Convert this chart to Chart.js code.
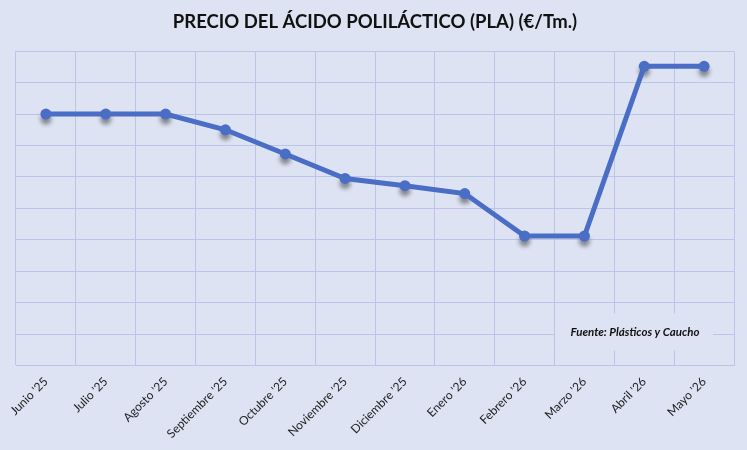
<!DOCTYPE html>
<html>
<head>
<meta charset="utf-8">
<script src="https://cdn.jsdelivr.net/npm/chart.js@4"></script>
<style>
  html, body { margin: 0; padding: 0; background: #dde3f3; }
  #wrap { width: 747px; height: 450px; }
</style>
</head>
<body>
<div id="wrap"><canvas id="plaChart"></canvas></div>
<script>
// datos (el eje Y no tiene etiquetas: unidades = líneas de la cuadrícula)
const meses = ["Junio '25","Julio '25","Agosto '25","Septiembre '25","Octubre '25","Noviembre '25",
  "Diciembre '25","Enero '26","Febrero '26","Marzo '26","Abril '26","Mayo '26"];
const precio = [8.0, 8.0, 8.0, 7.5, 6.73, 5.95, 5.72, 5.47, 4.12, 4.12, 9.52, 9.52];
const yMin = 0, yMax = 10, yStep = 1;

const BG = "#dde3f3";
const GRID = "#b9c6e6";
const AZUL = "#4a6dc6";

// sombra bajo los puntos (como en Excel)
const pointShadow = {
  id: "pointShadow",
  beforeDatasetsDraw(chart) {
    const ctx = chart.ctx;
    const meta = chart.getDatasetMeta(0);
    ctx.save();
    ctx.filter = "blur(2px)";
    ctx.fillStyle = "rgba(60,60,60,0.55)";
    meta.data.forEach(p => {
      ctx.beginPath();
      ctx.arc(p.x, p.y + 5, 5.5, 0, Math.PI * 2);
      ctx.fill();
    });
    ctx.restore();
  }
};

// nota de la fuente
const fuente = {
  id: "fuente",
  afterDraw(chart) {
    const ctx = chart.ctx;
    const a = chart.chartArea;
    ctx.save();
    ctx.fillStyle = BG;
    ctx.fillRect(a.right - 179, a.bottom - 52, 158, 37);
    ctx.fillStyle = "#111";
    ctx.font = "italic bold 11.5px Lato, 'Open Sans', sans-serif";
    ctx.textAlign = "center";
    ctx.textBaseline = "middle";
    ctx.fillText("Fuente: Plásticos y Caucho", a.right - 99, a.bottom - 33);
    ctx.restore();
  }
};

new Chart(document.getElementById("plaChart").getContext("2d"), {
  type: "line",
  data: {
    labels: meses,
    datasets: [{
      data: precio,
      borderColor: AZUL,
      backgroundColor: AZUL,
      borderWidth: 5,
      pointRadius: 5.5,
      pointBorderWidth: 0,
      pointBackgroundColor: AZUL,
      tension: 0
    }]
  },
  options: {
    responsive: true,
    maintainAspectRatio: false,
    animation: false,
    layout: { padding: { left: 16, right: 13, top: 0, bottom: 0 } },
    plugins: {
      legend: { display: false },
      tooltip: { enabled: false },
      title: {
        display: true,
        text: "PRECIO DEL ÁCIDO POLILÁCTICO (PLA) (€/Tm.)",
        color: "#111",
        font: { family: "Lato, 'Open Sans', sans-serif", size: 18.5, weight: "bold" },
        padding: { top: 11, bottom: 18 }
      }
    },
    scales: {
      x: {
        offset: true,
        grid: { color: GRID, lineWidth: 1, offset: true, drawTicks: false },
        border: { color: GRID },
        ticks: {
          color: "#222",
          font: { family: "Lato, 'Open Sans', sans-serif", size: 12 },
          minRotation: 45, maxRotation: 45,
          padding: 9,
          autoSkip: false
        }
      },
      y: {
        min: yMin, max: yMax,
        grid: { color: GRID, lineWidth: 1, drawTicks: false },
        border: { display: false },
        ticks: { display: false, stepSize: yStep }
      }
    }
  },
  plugins: [pointShadow, fuente]
});
</script>
</body>
</html>
